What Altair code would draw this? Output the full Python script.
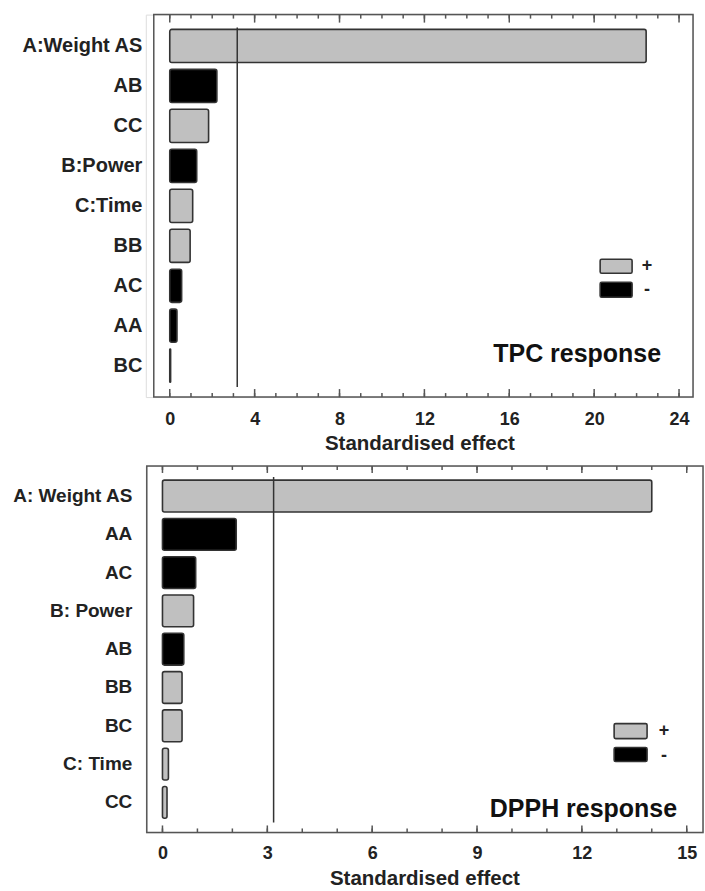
import altair as alt
import pandas as pd

# ---------------- data ----------------
tpc_terms = ["A:Weight AS", "AB", "CC", "B:Power", "C:Time", "BB", "AC", "AA", "BC"]
tpc_effects = [22.45, 2.22, 1.83, 1.27, 1.08, 0.96, 0.56, 0.34, 0.04]
tpc_signs = ["+", "-", "+", "-", "+", "+", "-", "-", "+"]
tpc_critical = 3.18

dpph_terms = ["A: Weight AS", "AA", "AC", "B: Power", "AB", "BB", "BC", "C: Time", "CC"]
dpph_effects = [14.0, 2.11, 0.95, 0.89, 0.61, 0.56, 0.56, 0.17, 0.13]
dpph_signs = ["+", "-", "-", "+", "-", "+", "+", "+", "+"]
dpph_critical = 3.18

tpc_major = [0, 4, 8, 12, 16, 20, 24]
tpc_minor = list(range(0, 25))
dpph_major = [0, 3, 6, 9, 12, 15]
dpph_minor = list(range(0, 16))

legend_signs = ["+", "-"]
sign_colors = ["#c0c0c0", "#000000"]

# ---------------- style ----------------
FONT = "Liberation Sans"
INK = "#222222"
FRAME = "#555555"
BAR_STROKE = "#333333"


def panel(terms, effects, signs, crit, major, minor, label, w, h, dom,
          frame_x0, y_lpad, y_lsize, x_lpad, t_pad, maj_len, min_len, rule_y,
          text_xy, leg):
    df = pd.DataFrame({"term": terms, "effect": effects, "sign": signs})
    xs = alt.Scale(domain=dom, nice=False, zero=False)
    ys = alt.Scale(domain=terms, paddingInner=0.17, paddingOuter=0.37)
    cs = alt.Scale(domain=legend_signs, range=sign_colors)
    xaxis = alt.Axis(values=major, format="d", ticks=False, tickSize=0,
                     domain=False, grid=False, labelFlush=False,
                     labelFont=FONT, labelFontSize=18, labelFontWeight="bold",
                     labelColor=INK, labelPadding=x_lpad,
                     title="Standardised effect", titleFont=FONT,
                     titleFontSize=20.5, titleFontWeight="bold",
                     titleColor=INK, titlePadding=t_pad)

    bars = alt.Chart(df).mark_bar(
        stroke=BAR_STROKE, strokeWidth=1.6, cornerRadius=2
    ).encode(
        x=alt.X("effect:Q", scale=xs, axis=xaxis),
        x2=alt.datum(0),
        y=alt.Y("term:N", scale=ys,
                axis=alt.Axis(title=None, ticks=False, tickSize=0, domain=False,
                              grid=False, labelFont=FONT, labelFontSize=y_lsize,
                              labelFontWeight="bold", labelColor=INK,
                              labelPadding=y_lpad, labelLimit=400)),
        fill=alt.Fill("sign:N", scale=cs, legend=None),
    )

    rule = alt.Chart(pd.DataFrame({"crit": [crit]})).mark_rule(
        color=BAR_STROKE, strokeWidth=1.5
    ).encode(
        x=alt.X("crit:Q", scale=xs, axis=xaxis),
        y=alt.value(rule_y[0]), y2=alt.value(rule_y[1]),
    )

    def ticks(vals, length):
        d = pd.DataFrame({"v": vals})
        top = alt.Chart(d).mark_rule(color=FRAME, strokeWidth=1.5).encode(
            x=alt.X("v:Q", scale=xs, axis=xaxis),
            y=alt.value(0), y2=alt.value(length))
        bot = alt.Chart(d).mark_rule(color=FRAME, strokeWidth=1.5).encode(
            x=alt.X("v:Q", scale=xs, axis=xaxis),
            y=alt.value(h), y2=alt.value(h - length))
        return [top, bot]

    frame = alt.Chart(pd.DataFrame({"k": [0]})).mark_rect(
        fillOpacity=0, stroke=FRAME, strokeWidth=1.5
    ).encode(x=alt.value(frame_x0), x2=alt.value(w), y=alt.value(0), y2=alt.value(h))

    note = alt.Chart(pd.DataFrame({"label": [label]})).mark_text(
        font=FONT, fontSize=25, fontWeight="bold", align="right",
        baseline="alphabetic", color="#111111"
    ).encode(x=alt.value(text_xy[0]), y=alt.value(text_xy[1]), text="label:N")

    # legend: (x0, x1, [(y0, y1) per sign], text_x, [text y per sign])
    lx0, lx1, lys, tx, tys = leg
    leg_layers = []
    for s, col, (y0, y1), ty in zip(legend_signs, sign_colors, lys, tys):
        ld = pd.DataFrame({"sign": [s]})
        leg_layers.append(
            alt.Chart(ld).mark_rect(fill=col, stroke=BAR_STROKE, strokeWidth=1.6,
                                    cornerRadius=1.5)
            .encode(x=alt.value(lx0), x2=alt.value(lx1), y=alt.value(y0), y2=alt.value(y1)))
        leg_layers.append(
            alt.Chart(ld).mark_text(font=FONT, fontSize=18, fontWeight="bold",
                                    color=INK, align="center", baseline="middle")
            .encode(x=alt.value(tx), y=alt.value(ty), text="sign:N"))

    return alt.layer(
        bars, rule, *ticks(minor, min_len), *ticks(major, maj_len), frame, note,
        *leg_layers
    ).properties(width=w, height=h)


top = panel(
    tpc_terms, tpc_effects, tpc_signs, tpc_critical, tpc_major, tpc_minor,
    "TPC response", 548, 383, [-24 / 21.25, (548 - 24) / 21.25],
    8, 4, 20, 13, 6, 8, 4, (13, 373), (516, 348),
    (455, 487, [(245, 259), (268, 283)], 502, [252, 276]),
)

bottom = panel(
    dpph_terms, dpph_effects, dpph_signs, dpph_critical, dpph_major, dpph_minor,
    "DPPH response", 558, 367, [-16.7 / 35, (558 - 16.7) / 35],
    1, 14, 19, 12, 6, 7, 4, (11, 357), (532, 352),
    (469, 502, [(258, 273), (282, 296)], 519, [265, 290]),
)

chart = alt.vconcat(top, bottom, spacing=69, bounds="flush").properties(
    padding={"left": 11, "top": 12, "right": 0, "bottom": 0}
).configure_view(stroke=None).configure(font=FONT)

chart.save("out.html", embed_options={"renderer": "svg", "actions": False})
